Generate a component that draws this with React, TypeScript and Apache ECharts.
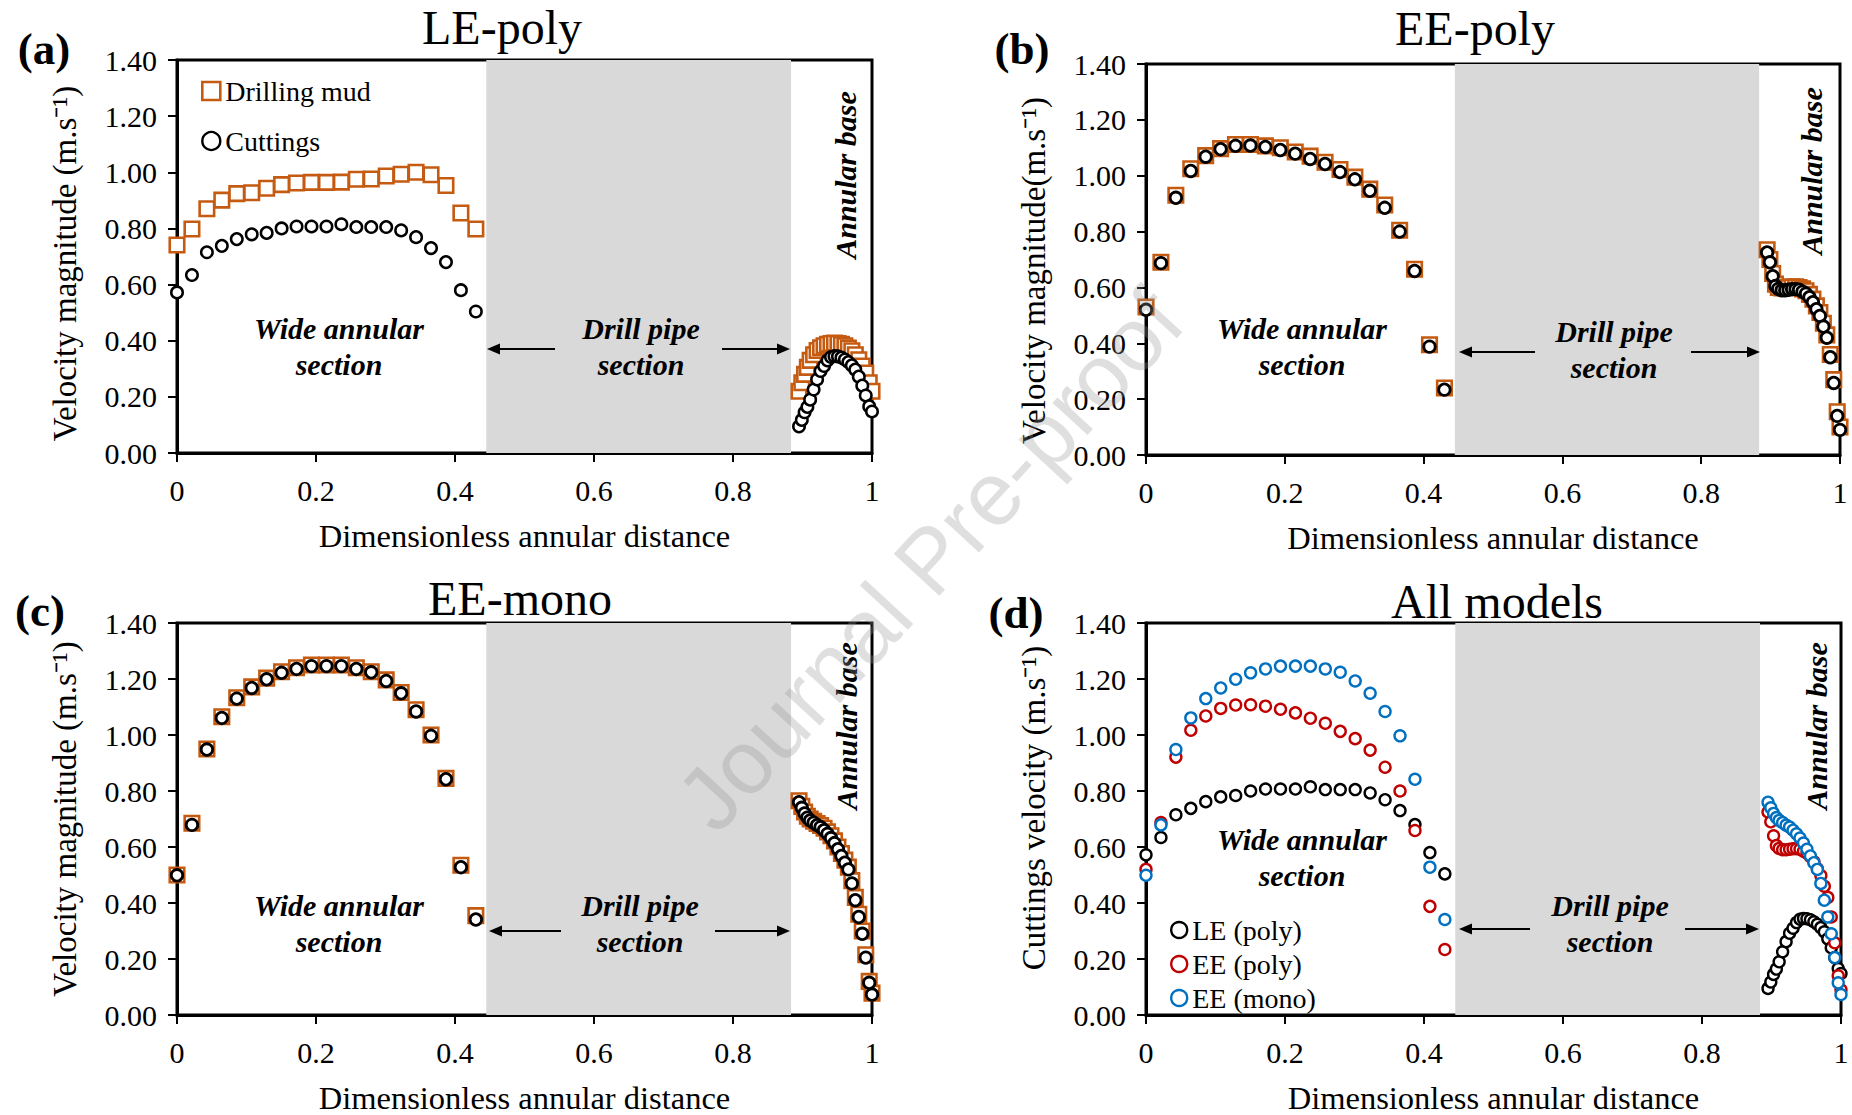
import React, { useEffect, useRef } from "react";
import * as echarts from "echarts";

// ---------------- DATA ----------------
const wideX = [0, 0.0215, 0.043, 0.0645, 0.086, 0.1075, 0.129, 0.1505, 0.172, 0.1935, 0.215, 0.2365, 0.258, 0.2795, 0.301, 0.3225, 0.344, 0.3655, 0.387, 0.4085, 0.43];
const baseX = [0.895, 0.899, 0.903, 0.907, 0.911, 0.916, 0.921, 0.926, 0.931, 0.936, 0.941, 0.946, 0.951, 0.956, 0.961, 0.966, 0.971, 0.976, 0.981, 0.986, 0.991, 0.996, 1.0];

// (a) LE-poly
const aMudWide = [0.741, 0.798, 0.870, 0.901, 0.924, 0.927, 0.943, 0.956, 0.962, 0.964, 0.964, 0.965, 0.975, 0.976, 0.987, 0.993, 1.0, 0.991, 0.953, 0.855, 0.798];
const aMudBase = [0.22, 0.25, 0.28, 0.305, 0.33, 0.35, 0.365, 0.375, 0.382, 0.387, 0.39, 0.392, 0.39, 0.387, 0.382, 0.374, 0.364, 0.35, 0.332, 0.31, 0.285, 0.25, 0.22];
const aCutWide = [0.572, 0.634, 0.715, 0.738, 0.762, 0.779, 0.784, 0.800, 0.807, 0.807, 0.807, 0.815, 0.805, 0.805, 0.805, 0.793, 0.769, 0.730, 0.680, 0.580, 0.504];
const aCutBase = [0.095, 0.118, 0.145, 0.164, 0.19, 0.226, 0.262, 0.292, 0.31, 0.33, 0.342, 0.345, 0.344, 0.34, 0.333, 0.324, 0.312, 0.297, 0.272, 0.24, 0.205, 0.166, 0.148];

// (b) EE-poly
const bMudWide = [0.53, 0.69, 0.93, 1.025, 1.072, 1.097, 1.112, 1.112, 1.107, 1.10, 1.085, 1.07, 1.048, 1.022, 0.995, 0.952, 0.895, 0.805, 0.665, 0.395, 0.24];
const bMudBase = [0.735, 0.70, 0.65, 0.612, 0.60, 0.598, 0.598, 0.60, 0.602, 0.602, 0.60, 0.595, 0.588, 0.575, 0.558, 0.534, 0.51, 0.472, 0.43, 0.36, 0.27, 0.155, 0.10];
const bCutWide = [0.52, 0.687, 0.921, 1.017, 1.068, 1.095, 1.107, 1.108, 1.103, 1.092, 1.079, 1.06, 1.042, 1.013, 0.987, 0.946, 0.885, 0.80, 0.659, 0.388, 0.234];
const bCutBase = [0.725, 0.69, 0.64, 0.605, 0.595, 0.59, 0.59, 0.592, 0.594, 0.594, 0.592, 0.585, 0.578, 0.565, 0.547, 0.522, 0.498, 0.46, 0.42, 0.35, 0.258, 0.14, 0.09];

// (c) EE-mono
const cMudWide = [0.50, 0.685, 0.95, 1.065, 1.133, 1.172, 1.203, 1.226, 1.24, 1.25, 1.25, 1.25, 1.24, 1.226, 1.197, 1.152, 1.09, 1.0, 0.845, 0.535, 0.355];
const cMudBase = [0.765, 0.745, 0.725, 0.71, 0.70, 0.692, 0.684, 0.677, 0.667, 0.654, 0.64, 0.622, 0.60, 0.577, 0.553, 0.528, 0.48, 0.42, 0.36, 0.30, 0.215, 0.12, 0.078];
const cCutWide = [0.499, 0.679, 0.948, 1.061, 1.13, 1.168, 1.199, 1.222, 1.236, 1.246, 1.246, 1.246, 1.236, 1.224, 1.193, 1.149, 1.084, 0.997, 0.842, 0.528, 0.341];
const cCutBase = [0.76, 0.74, 0.72, 0.705, 0.695, 0.687, 0.678, 0.671, 0.66, 0.647, 0.632, 0.614, 0.592, 0.568, 0.544, 0.52, 0.47, 0.41, 0.35, 0.29, 0.205, 0.115, 0.073];

const drillPipeRange = [0.445, 0.8835];
const yTickMin = 0;
const yTickMax = 1.4;
const yTickStep = 0.2;
const xTickMin = 0;
const xTickMax = 1;
const xTickStep = 0.2;

const panelTitles = ["LE-poly", "EE-poly", "EE-mono", "All models"];
const panelLetters = ["(a)", "(b)", "(c)", "(d)"];
const yNames = ["Velocity magnitude (m.s\u207B\u00B9)", "Velocity magnitude(m.s\u207B\u00B9)", "Velocity magnitude (m.s\u207B\u00B9)", "Cuttings velocity (m.s\u207B\u00B9)"];
const xName = "Dimensionless annular distance";

// ---------------- STYLE ----------------
const FONT = "'Liberation Serif', 'Times New Roman', serif";
const ORANGE = "#C55A11";
const RED = "#C00000";
const BLUE = "#0070C0";

const grids = [
  { left: 177, top: 60, width: 695, height: 393 },
  { left: 1146, top: 64, width: 694, height: 391 },
  { left: 177, top: 623, width: 695, height: 392 },
  { left: 1146, top: 623, width: 695, height: 392 },
];
// padding used to nudge the rotated y-axis names along the axis
const yNamePadding = [[0, 14, 0, 0], [0, 22, 0, 0], [0, 0, 0, 0], [0, 0, 0, 22]];

function pts(xs1: number[], ys1: number[], xs2: number[], ys2: number[]) {
  return xs1.map((x, i) => [x, ys1[i]]).concat(xs2.map((x, i) => [x, ys2[i]]));
}

function mudSeries(gi: number, wide: number[], base: number[]) {
  return {
    type: "scatter",
    name: "Drilling mud",
    xAxisIndex: gi,
    yAxisIndex: gi,
    data: pts(wideX, wide, baseX, base),
    symbol: "rect",
    symbolSize: 14.5,
    itemStyle: { color: "#fff", borderColor: ORANGE, borderWidth: 2.6, opacity: 1 },
    emphasis: { disabled: true },
    z: 2,
    markArea: {
      silent: true,
      itemStyle: { color: "#D9D9D9" },
      data: [[{ xAxis: drillPipeRange[0] }, { xAxis: drillPipeRange[1] }]],
    },
  };
}

function circleSeries(gi: number, name: string, color: string, wide: number[], base: number[], size: number, bw: number, z: number, withBand = false) {
  const s: any = {
    type: "scatter",
    name,
    xAxisIndex: gi,
    yAxisIndex: gi,
    data: pts(wideX, wide, baseX, base),
    symbol: "circle",
    symbolSize: size,
    itemStyle: { color: "#fff", borderColor: color, borderWidth: bw, opacity: 1 },
    emphasis: { disabled: true },
    z,
  };
  if (withBand) {
    s.markArea = {
      silent: true,
      itemStyle: { color: "#D9D9D9" },
      data: [[{ xAxis: drillPipeRange[0] }, { xAxis: drillPipeRange[1] }]],
    };
  }
  return s;
}

function textEl(text: string, x: number, y: number, opts: any = {}) {
  return {
    type: "text",
    x,
    y,
    z: 100,
    rotation: opts.rotation || 0,
    silent: true,
    style: {
      text,
      fontFamily: opts.fontFamily || FONT,
      fontSize: opts.fontSize || 30,
      fontWeight: opts.fontWeight || "normal",
      fontStyle: opts.fontStyle || "normal",
      lineHeight: opts.lineHeight,
      fill: opts.fill || "#000",
      align: "center",
      verticalAlign: "middle",
    },
  };
}

function arrowEls(tail: number, head: number, y: number) {
  const dir = head > tail ? 1 : -1;
  const L = 13;
  const W = 5.5;
  return [
    { type: "line", z: 100, silent: true, shape: { x1: tail, y1: y, x2: head - dir * L, y2: y }, style: { stroke: "#000", lineWidth: 2 } },
    { type: "polygon", z: 100, silent: true, shape: { points: [[head, y], [head - dir * L, y - W], [head - dir * L, y + W]] }, style: { fill: "#000" } },
  ];
}

function xAxisCfg(gi: number) {
  return {
    gridIndex: gi,
    type: "value",
    min: xTickMin,
    max: xTickMax,
    interval: xTickStep,
    name: xName,
    nameLocation: "middle",
    nameGap: 66,
    nameTextStyle: { fontFamily: FONT, fontSize: 32.5, color: "#000" },
    axisLine: { show: true, onZero: false, lineStyle: { color: "#000", width: 3 } },
    axisTick: { show: true, length: 9, lineStyle: { color: "#000", width: 2 } },
    axisLabel: {
      fontFamily: FONT,
      fontSize: 30,
      color: "#000",
      margin: 22,
      formatter: (v: number) => String(Math.round(v * 10) / 10),
    },
    splitLine: { show: false },
  };
}

function yAxisCfg(gi: number) {
  return {
    gridIndex: gi,
    type: "value",
    min: yTickMin,
    max: yTickMax,
    interval: yTickStep,
    name: yNames[gi],
    nameLocation: "middle",
    nameGap: 96,
    nameTextStyle: { fontFamily: FONT, fontSize: 33, color: "#000", padding: yNamePadding[gi] },
    axisLine: { show: true, onZero: false, lineStyle: { color: "#000", width: 3 } },
    axisTick: { show: true, length: 9, lineStyle: { color: "#000", width: 2 } },
    axisLabel: {
      fontFamily: FONT,
      fontSize: 30,
      color: "#000",
      margin: 20,
      formatter: (v: number) => v.toFixed(2),
    },
    splitLine: { show: false },
  };
}

export default function App() {
  const ref = useRef<HTMLDivElement>(null);
  useEffect(() => {
    if (!ref.current) return;
    const chart = echarts.init(ref.current, undefined, { renderer: "svg" });

    const graphic: any[] = [];
    // panel titles and letters
    const titlePos = [[502, 27], [1475, 28], [520, 598], [1497, 601]];
    const letterPos = [[44, 49], [1022, 49], [40, 611], [1016, 613]];
    panelTitles.forEach((t, i) => graphic.push(textEl(t, titlePos[i][0], titlePos[i][1], { fontSize: 48 })));
    panelLetters.forEach((t, i) => graphic.push(textEl(t, letterPos[i][0], letterPos[i][1], { fontSize: 45, fontWeight: "bold" })));

    const bi = { fontSize: 30, fontWeight: "bold", fontStyle: "italic", lineHeight: 36 };
    const widePos = [[339, 346], [1302, 346], [339, 923], [1302, 857]];
    const drillPos = [[641, 346], [1614, 349], [640, 923], [1610, 923]];
    const basePos = [[845, 175], [1811, 171], [846, 726], [1816, 726]];
    const arrowY = [349, 352, 931, 929];
    const arrowX = [
      [555, 487, 722, 790],
      [1535, 1459, 1691, 1760],
      [561, 489, 715, 790],
      [1530, 1459, 1685, 1759],
    ];
    for (let i = 0; i < 4; i++) {
      graphic.push(textEl("Wide annular\nsection", widePos[i][0], widePos[i][1], bi));
      graphic.push(textEl("Drill pipe\nsection", drillPos[i][0], drillPos[i][1], bi));
      graphic.push(textEl("Annular base", basePos[i][0], basePos[i][1], { ...bi, rotation: Math.PI / 2 }));
      graphic.push(...arrowEls(arrowX[i][0], arrowX[i][1], arrowY[i]));
      graphic.push(...arrowEls(arrowX[i][2], arrowX[i][3], arrowY[i]));
    }
    // watermark
    graphic.push({
      type: "text",
      x: 930,
      y: 560,
      rotation: 0.826,
      z: 200,
      silent: true,
      style: {
        text: "Journal Pre-proof",
        fontFamily: "'Liberation Sans', Arial, sans-serif",
        fontSize: 90,
        fill: "rgba(150,150,150,0.3)",
        align: "center",
        verticalAlign: "middle",
      },
    });

    const option: any = {
      animation: false,
      backgroundColor: "#fff",
      grid: grids.map((g) => ({ ...g, show: true, borderColor: "#000", borderWidth: 3, backgroundColor: "transparent", containLabel: false })),
      xAxis: [0, 1, 2, 3].map(xAxisCfg),
      yAxis: [0, 1, 2, 3].map(yAxisCfg),
      legend: [
        {
          left: 196,
          top: 72,
          orient: "vertical",
          itemWidth: 18,
          itemHeight: 18,
          itemGap: 22,
          selectedMode: false,
          textStyle: { fontFamily: FONT, fontSize: 28, color: "#000" },
          data: [
            { name: "Drilling mud", icon: "rect", itemStyle: { color: "#fff", borderColor: ORANGE, borderWidth: 2.6 } },
            { name: "Cuttings", icon: "circle", itemStyle: { color: "#fff", borderColor: "#000", borderWidth: 2.4 } },
          ],
        },
        {
          left: 1165,
          top: 911,
          orient: "vertical",
          itemWidth: 16,
          itemHeight: 16,
          itemGap: 6,
          selectedMode: false,
          textStyle: { fontFamily: FONT, fontSize: 28, color: "#000" },
          data: [
            { name: "LE (poly)", icon: "circle", itemStyle: { color: "#fff", borderColor: "#000", borderWidth: 2.4 } },
            { name: "EE (poly)", icon: "circle", itemStyle: { color: "#fff", borderColor: RED, borderWidth: 2.4 } },
            { name: "EE (mono)", icon: "circle", itemStyle: { color: "#fff", borderColor: BLUE, borderWidth: 2.4 } },
          ],
        },
      ],
      series: [
        mudSeries(0, aMudWide, aMudBase),
        circleSeries(0, "Cuttings", "#000", aCutWide, aCutBase, 11.5, 2.5, 3),
        mudSeries(1, bMudWide, bMudBase),
        circleSeries(1, "Cuttings", "#000", bCutWide, bCutBase, 11.5, 2.8, 3),
        mudSeries(2, cMudWide, cMudBase),
        circleSeries(2, "Cuttings", "#000", cCutWide, cCutBase, 11.5, 2.8, 3),
        circleSeries(3, "LE (poly)", "#000", aCutWide, aCutBase, 11, 2.4, 3, true),
        circleSeries(3, "EE (poly)", RED, bCutWide, bCutBase, 11, 2.4, 4),
        circleSeries(3, "EE (mono)", BLUE, cCutWide, cCutBase, 11, 2.4, 5),
      ],
      graphic,
    };
    chart.setOption(option);
    return () => chart.dispose();
  }, []);
  return <div ref={ref} style={{ position: "fixed", left: 0, top: 0, width: 1852, height: 1115 }} />;
}
